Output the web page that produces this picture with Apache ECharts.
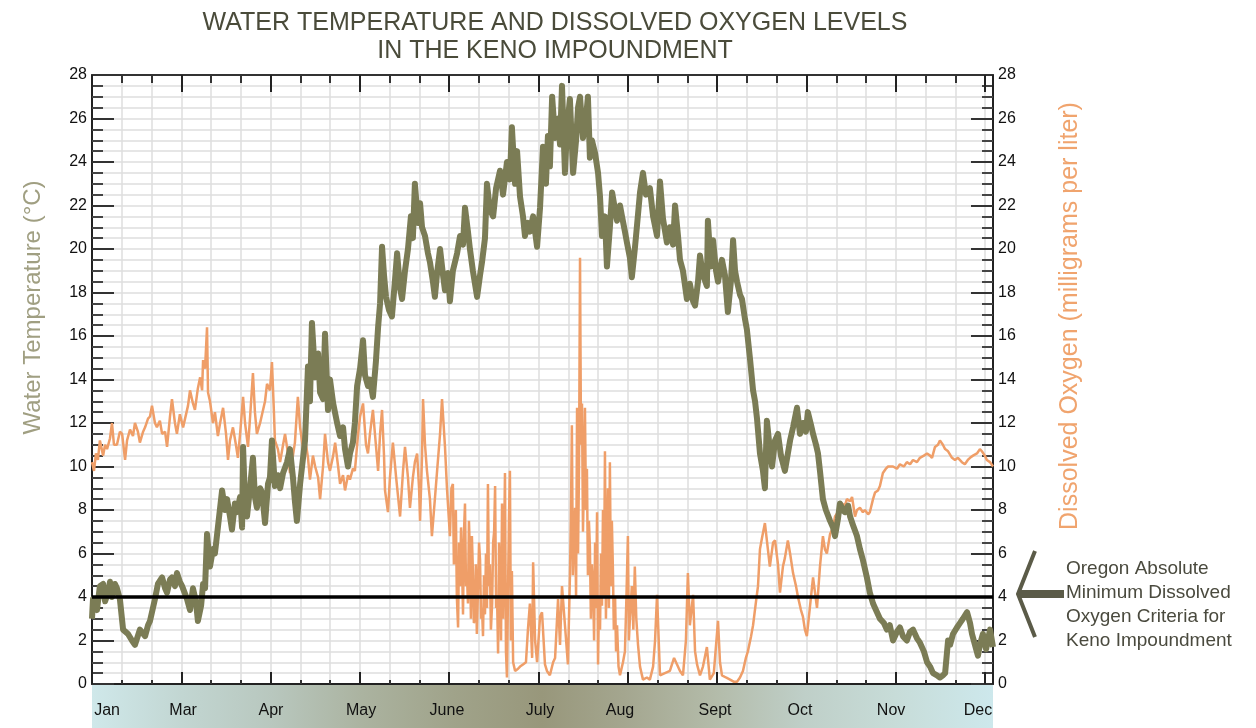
<!DOCTYPE html>
<html>
<head>
<meta charset="utf-8">
<title>Keno Impoundment</title>
<script src="https://cdn.jsdelivr.net/npm/echarts@6.0.0/dist/echarts.min.js"></script>
<style>
  html, body { margin: 0; padding: 0; background: #fff; }
  #main { width: 1256px; height: 728px; }
</style>
</head>
<body>
<div id="main"></div>
<script>
// x = day of the record (0 = start of Jan, 365 = end of Dec)
var monthNames = ['Jan', 'Mar', 'Apr', 'May', 'June', 'July', 'Aug', 'Sept', 'Oct', 'Nov', 'Dec'];
var monthDays = [6.1, 36.9, 72.5, 109.0, 143.8, 181.5, 213.9, 252.4, 286.8, 323.7, 358.9];

// water temperature, [day, deg C]
var waterTemp = [
  [0,3.0],[0.4,3.9],[2.0,3.4],[3.2,4.5],[4.5,4.6],[5.3,3.8],[6.5,4.2],[7.3,4.7],[8.1,4.0],[9.3,4.6],
  [10.1,4.4],[11.3,3.9],[12.6,2.5],[14.6,2.3],[16.2,2.0],[17.4,1.8],[19.4,2.5],[21.5,2.2],[22.7,2.7],[23.5,2.9],
  [25.5,3.9],[26.7,4.6],[28.4,4.9],[29.6,4.4],[30.4,4.2],[31.6,4.8],[32.4,4.9],[33.6,4.5],[34.4,5.1],[35.6,4.7],
  [36.5,4.5],[38.5,3.9],[39.7,3.4],[40.9,4.4],[42.1,3.8],[42.9,2.9],[44.2,3.6],[45.0,4.6],[45.8,4.4],[46.6,6.9],
  [47.8,5.4],[49.0,6.2],[49.8,6.0],[51.0,7.2],[52.7,8.9],[53.9,8.0],[54.7,8.5],[55.9,7.7],[56.7,7.1],[57.9,8.3],
  [58.7,7.9],[60.0,8.6],[60.8,7.2],[61.2,10.9],[62.0,8.3],[62.8,7.7],[64.0,9.0],[65.2,10.4],[66.0,8.6],[66.8,8.1],
  [68.1,9.0],[68.9,8.8],[70.1,7.4],[71.3,9.2],[72.1,9.5],[72.9,11.2],[74.1,9.1],[75.3,9.6],[76.2,9.0],[77.4,9.7],
  [79.0,10.2],[80.2,10.8],[81.4,9.5],[82.2,8.4],[83.0,7.5],[84.3,9.2],[85.1,10.0],[86.3,11.2],[87.5,14.6],[88.3,13.0],
  [89.1,16.6],[90.4,14.1],[91.6,15.2],[92.4,13.4],[93.6,13.1],[94.4,16.1],[95.6,12.6],[96.4,14.0],[97.7,12.9],[99.3,12.0],
  [100.5,11.4],[101.7,11.8],[102.5,10.8],[103.7,10.0],[104.5,10.6],[105.7,11.1],[106.5,12.0],[107.4,13.7],[108.6,14.5],[109.8,15.8],
  [110.6,14.2],[111.8,13.7],[112.6,14.0],[113.8,13.2],[115.0,14.8],[115.9,16.4],[116.7,17.5],[117.5,20.1],[118.3,18.8],[119.1,17.8],
  [120.3,17.2],[121.5,16.9],[122.7,18.5],[123.6,19.8],[124.8,18.2],[125.6,17.7],[126.8,19.0],[128.0,20.0],[129.2,21.5],[130.0,20.5],
  [130.8,23.0],[132.1,21.2],[132.9,22.1],[133.7,21.0],[134.9,20.6],[136.1,19.8],[136.9,19.4],[138.1,18.5],[138.9,17.8],[139.8,18.9],
  [141.0,20.0],[142.2,18.8],[143.0,18.1],[144.2,18.9],[145.0,17.6],[146.2,19.0],[147.9,19.8],[149.1,20.6],[150.3,20.2],[151.1,21.9],
  [152.3,20.8],[153.1,20.0],[154.3,19.0],[156.0,17.8],[157.2,18.8],[158.0,19.4],[159.2,20.5],[160.0,23.0],[161.2,21.8],[162.5,21.5],
  [163.7,22.8],[165.3,23.6],[166.5,22.5],[168.1,24.0],[169.3,23.2],[170.1,25.6],[171.4,23.0],[172.2,24.5],[173.4,22.4],[174.6,21.5],
  [175.4,20.6],[176.6,21.2],[177.4,20.8],[178.7,21.5],[180.3,20.1],[181.5,21.9],[182.7,24.7],[183.9,23.0],[184.7,25.2],[185.5,23.8],
  [186.4,27.0],[187.6,25.1],[188.8,26.0],[189.6,24.8],[190.4,27.5],[191.6,23.5],[192.4,25.5],[193.6,26.9],[194.9,23.5],[196.1,25.0],
  [196.9,26.5],[197.7,27.0],[198.9,25.1],[200.1,26.0],[200.9,27.0],[201.7,24.2],[202.5,25.0],[203.8,24.4],[205.0,23.5],[205.8,22.4],
  [206.6,20.6],[207.8,21.5],[208.6,19.2],[209.8,21.0],[210.7,22.6],[211.9,21.8],[212.7,21.3],[213.9,22.0],[214.7,21.5],[215.9,20.8],
  [216.7,20.3],[217.9,19.6],[218.7,18.7],[219.9,20.0],[220.8,21.1],[222.0,22.6],[223.2,23.5],[224.4,22.5],[226.0,22.8],[227.3,21.5],
  [228.9,20.6],[230.1,23.1],[231.3,21.4],[232.9,20.3],[234.1,21.0],[235.4,20.2],[236.2,22.0],[237.4,20.6],[238.2,19.5],[239.4,19.0],
  [241.0,17.7],[242.2,18.4],[243.5,17.6],[244.3,17.4],[245.5,18.5],[246.3,19.7],[247.5,18.8],[249.1,18.3],[249.5,21.3],[250.7,19.2],
  [251.6,20.4],[252.8,19.0],[253.6,18.5],[255.2,19.5],[256.4,18.8],[257.6,17.1],[258.9,18.6],[259.7,20.4],[260.5,19.0],[261.3,18.5],
  [262.5,17.9],[263.3,17.7],[264.5,16.8],[265.3,16.3],[266.6,14.9],[267.8,13.5],[268.6,13.0],[269.4,12.2],[270.6,10.6],[271.8,9.8],
  [272.6,9.0],[273.4,12.1],[274.6,10.8],[275.5,10.0],[276.7,11.2],[277.9,11.5],[279.1,10.5],[280.7,9.8],[281.9,10.6],[282.8,11.2],
  [284.0,11.8],[285.6,12.7],[286.8,11.5],[288.0,12.0],[289.2,11.6],[290.0,12.5],[291.3,11.9],[292.1,11.5],[293.3,11.0],[294.1,10.6],
  [294.9,9.8],[296.1,8.5],[297.3,8.0],[299.0,7.5],[300.2,7.2],[301.0,6.8],[302.2,7.6],[303.0,8.3],[304.2,8.0],[305.0,7.9],
  [306.3,8.2],[307.1,7.7],[308.3,7.3],[309.9,6.8],[311.1,6.2],[312.3,5.7],[313.9,4.9],[315.1,4.2],[316.4,3.7],[318.0,3.3],
  [319.2,3.0],[320.8,2.8],[322.0,2.5],[323.2,2.7],[324.5,2.0],[326.1,2.4],[327.3,2.6],[328.5,2.2],[330.1,2.0],[331.4,2.4],
  [332.6,2.5],[334.2,2.1],[335.4,1.9],[337.0,1.5],[338.3,1.0],[339.5,0.8],[340.7,0.5],[342.3,0.4],[343.5,0.3],[344.7,0.4],
  [345.6,0.5],[346.8,2.0],[347.6,1.8],[348.8,2.3],[350.4,2.6],[351.6,2.8],[352.8,3.0],[354.5,3.3],[355.7,2.8],[356.5,2.3],
  [357.7,1.8],[358.9,1.3],[359.7,1.8],[360.9,2.3],[362.2,1.6],[363.8,2.5],[365.0,1.7]
];

// dissolved oxygen, [day, mg/L]
var dissolvedOxygen = [
  [0,10.2],[0.8,9.8],[1.6,10.6],[2.4,10.3],[3.2,11.2],[4.5,10.5],[5.3,11.0],[6.1,10.8],[7.3,11.3],[8.1,12.0],
  [8.9,11.0],[10.1,11.0],[11.3,11.6],[12.2,11.5],[13.4,10.3],[14.2,11.2],[15.4,11.7],[16.6,11.4],[17.4,12.0],[18.6,11.6],
  [19.4,11.1],[20.7,11.6],[21.5,11.8],[22.7,12.2],[23.5,12.3],[24.3,12.8],[25.5,12.0],[26.3,11.8],[27.5,12.1],[28.4,11.5],
  [29.6,11.6],[30.4,10.9],[31.6,12.3],[32.4,13.1],[33.6,12.0],[34.4,11.5],[35.6,12.4],[36.9,11.8],[37.7,12.2],[38.9,12.8],
  [39.7,13.5],[40.9,12.9],[41.7,12.6],[42.9,13.6],[43.8,14.1],[44.6,13.5],[45.0,14.9],[45.8,14.5],[46.6,16.4],[47.0,13.4],
  [47.8,13.0],[49.0,12.0],[49.8,12.5],[51.0,11.4],[51.9,12.0],[53.1,12.7],[54.3,11.5],[55.1,10.3],[55.9,11.2],[57.1,11.8],
  [58.3,11.0],[59.1,10.4],[60.0,11.5],[61.2,13.2],[62.0,12.0],[63.2,10.9],[64.0,12.2],[65.2,14.3],[66.0,12.5],[66.8,11.5],
  [68.1,12.0],[68.9,12.4],[70.1,13.0],[70.9,13.8],[72.1,13.5],[72.9,14.8],[73.7,12.5],[74.1,11.2],[75.3,10.8],[76.2,10.2],
  [77.4,11.0],[78.2,11.5],[79.4,10.6],[80.2,9.7],[81.4,10.5],[82.2,11.1],[83.4,13.2],[84.3,11.8],[85.5,10.8],[86.3,11.3],
  [87.5,10.4],[88.3,9.4],[89.5,10.5],[90.4,10.0],[91.6,9.5],[92.4,8.5],[93.6,10.0],[94.4,11.5],[95.6,10.2],[96.4,9.8],
  [97.7,10.5],[98.5,11.1],[99.7,10.0],[100.5,9.2],[101.7,9.6],[102.5,8.9],[103.7,9.6],[104.5,9.4],[105.7,9.9],[106.5,9.8],
  [107.8,11.5],[108.6,12.3],[109.8,12.9],[111.0,11.0],[111.8,10.6],[112.6,11.5],[113.8,12.6],[115.0,11.0],[115.9,9.8],[116.7,11.5],
  [117.5,12.6],[118.3,10.5],[118.7,8.9],[119.9,7.9],[120.7,9.5],[121.9,11.1],[123.2,9.5],[124.0,8.6],[124.8,7.7],[126.0,9.8],
  [126.8,10.9],[128.0,9.5],[128.8,8.1],[130.0,9.5],[130.8,10.2],[131.7,10.6],[132.5,9.0],[132.9,7.5],[133.7,10.5],[134.1,13.1],
  [134.9,11.0],[135.7,9.8],[136.9,8.5],[137.7,6.8],[138.9,8.5],[139.8,9.8],[141.0,11.5],[141.8,13.1],[143.0,10.9],[143.8,9.0],
  [145.0,6.8],[145.6,9.0],[146.2,9.2],[146.6,5.5],[147.0,6.0],[147.4,8.0],[147.8,4.0],[148.3,2.6],[148.7,6.5],[149.1,4.5],
  [149.5,7.2],[149.9,5.6],[150.3,3.2],[150.7,7.0],[151.1,8.3],[151.5,4.5],[151.9,5.0],[152.3,3.7],[152.7,7.5],[153.1,6.0],
  [153.5,3.0],[153.9,6.8],[154.3,5.2],[154.7,2.8],[155.1,3.0],[155.5,5.5],[155.9,2.3],[156.4,4.5],[156.8,6.5],[157.2,5.7],
  [157.6,3.0],[158.0,3.5],[158.4,2.2],[158.8,5.0],[159.2,3.2],[159.6,6.0],[160.0,3.5],[160.4,9.2],[160.8,4.5],[161.2,5.5],
  [161.6,2.5],[162.1,3.7],[162.5,6.5],[162.9,7.0],[163.3,9.1],[163.7,3.5],[164.1,4.0],[164.5,1.4],[164.9,6.5],[165.3,5.0],
  [165.7,2.0],[166.1,8.3],[166.5,3.0],[166.9,6.0],[167.3,9.7],[167.7,1.5],[168.1,0.3],[168.5,4.0],[168.9,7.5],[169.3,9.8],
  [169.7,2.0],[170.1,5.2],[170.6,1.0],[171.4,0.6],[172.6,0.7],[173.4,0.8],[174.6,0.9],[175.8,1.0],[176.6,2.5],[177.4,3.7],
  [178.3,1.2],[178.7,5.6],[179.5,2.0],[180.3,1.0],[181.5,3.1],[182.3,3.3],[183.5,0.9],[184.3,0.6],[185.5,0.4],[186.8,1.0],
  [187.6,1.2],[188.8,3.9],[189.6,1.8],[190.4,4.5],[191.6,2.7],[192.8,0.9],[193.6,4.9],[194.0,7.5],[194.4,11.9],[194.8,5.0],
  [195.2,6.5],[195.7,8.1],[196.1,4.0],[196.5,12.7],[196.9,6.0],[197.3,10.0],[197.7,19.6],[198.1,11.0],[198.5,12.9],[198.9,7.0],
  [199.3,9.5],[199.7,12.7],[200.1,8.0],[200.5,9.9],[200.9,5.0],[201.3,7.5],[201.7,6.3],[202.1,3.0],[202.5,5.5],[203.0,4.5],
  [203.4,2.0],[203.8,6.5],[204.2,3.5],[204.6,7.9],[205.0,0.9],[205.4,4.0],[205.8,2.5],[206.2,6.0],[206.6,3.6],[207.0,8.0],
  [207.4,4.0],[207.8,10.7],[208.2,3.0],[208.6,6.3],[209.0,9.0],[209.4,3.5],[209.8,10.2],[210.2,4.5],[210.6,7.5],[211.0,5.4],
  [211.4,2.5],[211.9,4.0],[212.3,1.5],[212.7,2.7],[213.3,0.8],[213.9,0.4],[215.1,1.0],[215.9,1.5],[216.5,4.0],[217.1,6.8],
  [217.5,2.0],[217.9,3.0],[218.7,4.5],[219.3,2.5],[219.9,5.4],[220.5,3.0],[221.2,1.8],[222.0,0.8],[223.2,0.2],[224.8,0.3],
  [226.0,0.2],[227.3,0.8],[228.1,2.0],[228.9,4.1],[230.1,0.4],[232.1,0.5],[234.1,0.6],[235.8,1.2],[237.0,0.9],[238.2,0.6],
  [239.4,0.4],[240.6,2.0],[241.4,5.1],[242.2,2.7],[243.5,4.1],[244.3,1.5],[245.1,0.9],[246.3,0.4],[247.5,0.8],[249.1,1.7],
  [250.3,0.2],[251.9,0.5],[253.6,2.9],[254.4,1.0],[255.2,0.4],[256.8,0.3],[258.5,0.2],[260.1,0.1],[261.3,0.1],[262.5,0.3],
  [263.7,0.6],[264.9,1.2],[265.7,1.5],[267.0,2.2],[267.8,2.7],[269.0,3.8],[269.8,4.5],[270.6,6.2],[271.4,6.7],[272.6,7.4],
  [273.8,6.2],[274.6,5.4],[275.9,6.5],[276.7,6.6],[277.9,5.5],[278.7,4.2],[279.9,5.4],[280.7,5.8],[281.9,6.6],[282.8,6.0],
  [284.0,5.1],[285.2,4.5],[286.0,4.0],[287.2,3.4],[288.0,3.1],[288.8,2.5],[289.6,2.2],[290.8,3.5],[292.1,4.9],[292.9,4.2],
  [293.7,3.5],[294.9,5.4],[296.1,6.8],[296.9,6.2],[297.7,6.0],[299.0,6.9],[300.2,7.2],[301.0,7.7],[302.2,7.9],[303.8,8.3],
  [305.0,8.2],[305.8,8.5],[307.1,8.4],[307.9,8.6],[309.1,7.7],[309.9,8.0],[311.1,8.1],[312.3,7.9],[313.1,8.0],[314.4,7.8],
  [315.1,7.9],[316.4,8.5],[317.2,8.8],[318.4,8.9],[319.2,9.1],[320.4,9.7],[321.6,9.9],[322.5,10.0],[324.5,10.0],[326.1,9.9],
  [327.3,10.1],[328.9,10.0],[330.1,10.2],[331.4,10.1],[332.6,10.3],[334.2,10.2],[335.4,10.4],[337.0,10.5],[338.3,10.6],[339.5,10.5],
  [340.3,10.4],[341.5,10.9],[342.7,11.0],[343.5,11.2],[344.7,11.0],[345.6,10.8],[346.8,10.7],[348.4,10.4],[349.6,10.3],[350.8,10.4],
  [352.4,10.2],[353.6,10.1],[354.8,10.3],[355.7,10.4],[356.9,10.5],[358.5,10.6],[359.7,10.8],[360.5,10.7],[361.7,10.5],[362.5,10.3],
  [363.8,10.2],[365.0,10.0]
];

var oxygenCriterion = 4; // Oregon absolute minimum, mg/L

var gridLine = { color: '#dedede', width: 1.5 };
var font = 'Liberation Sans, Arial, sans-serif';

var myChart = echarts.init(document.getElementById('main'));

function monthLabel(v) {
  var best = 0;
  for (var i = 1; i < monthDays.length; i++) {
    if (Math.abs(monthDays[i] - v) < Math.abs(monthDays[best] - v)) best = i;
  }
  return monthNames[best];
}

var option = {
  animation: false,
  backgroundColor: '#fff',
  textStyle: { fontFamily: font },
  title: {
    text: 'WATER TEMPERATURE AND DISSOLVED OXYGEN LEVELS\nIN THE KENO IMPOUNDMENT',
    left: 550,
    top: 4,
    textAlign: 'center',
    textStyle: { fontSize: 25, fontWeight: 'normal', color: '#4a4b3a', lineHeight: 28, fontFamily: font }
  },
  grid: { left: 92, right: 263, top: 75, bottom: 44, containLabel: false, outerBoundsMode: 'none' },
  xAxis: [{
    type: 'value', min: 0, max: 365, interval: 36.18, position: 'bottom',
    axisLine: { show: true, onZero: false, lineStyle: { color: '#222', width: 2 } },
    axisTick: { show: true, inside: true, length: 12, lineStyle: { color: '#222', width: 2 } },
    minorTick: { show: true, splitNumber: 3, length: 4, lineStyle: { color: '#333', width: 2 } },
    splitLine: { show: true, lineStyle: gridLine },
    minorSplitLine: { show: true, lineStyle: gridLine },
    axisLabel: {
      customValues: monthDays, formatter: monthLabel, margin: 19,
      fontSize: 16, color: '#111', fontFamily: font
    }
  }, {
    type: 'value', min: 0, max: 365, interval: 36.18, position: 'top',
    axisLine: { show: true, onZero: false, lineStyle: { color: '#333', width: 2 } },
    axisTick: { show: true, inside: true, length: 17, lineStyle: { color: '#222', width: 2 } },
    minorTick: { show: true, splitNumber: 3, length: 8, lineStyle: { color: '#333', width: 2 } },
    splitLine: { show: false },
    axisLabel: { show: false }
  }],
  yAxis: [{
    type: 'value', min: 0, max: 28, interval: 2, position: 'left',
    name: 'Water Temperature (°C)', nameLocation: 'middle', nameRotate: 90, nameGap: 47,
    nameTextStyle: { fontSize: 24, color: '#a09f82', fontFamily: font, padding: [0, 0, 0, 144] },
    axisLine: { show: true, onZero: false, lineStyle: { color: '#222', width: 2 } },
    axisTick: { show: true, inside: true, length: 22, lineStyle: { color: '#333', width: 2 } },
    minorTick: { show: true, splitNumber: 4, length: 11, lineStyle: { color: '#444', width: 2 } },
    splitLine: { show: true, lineStyle: gridLine },
    minorSplitLine: { show: true, lineStyle: gridLine },
    axisLabel: { fontSize: 16, color: '#111', margin: 5, fontFamily: font }
  }, {
    type: 'value', min: 0, max: 28, interval: 2, position: 'right',
    name: 'Dissolved Oxygen (milligrams per liter)', nameLocation: 'middle', nameRotate: 90, nameGap: 65,
    nameTextStyle: { fontSize: 25, color: '#f0a46e', fontFamily: font, padding: [0, 0, 0, 127] },
    axisLine: { show: true, onZero: false, lineStyle: { color: '#222', width: 2 } },
    axisTick: { show: true, inside: true, length: 22, lineStyle: { color: '#333', width: 2 } },
    minorTick: { show: true, splitNumber: 4, length: 11, lineStyle: { color: '#444', width: 2 } },
    splitLine: { show: false },
    axisLabel: { fontSize: 16, color: '#111', margin: 5, fontFamily: font }
  }],
  series: [{
    name: 'Dissolved oxygen',
    type: 'line',
    xAxisIndex: 0,
    yAxisIndex: 1,
    data: dissolvedOxygen,
    symbol: 'none',
    lineStyle: { color: '#ef9e68', width: 2.5 },
    z: 2
  }, {
    name: 'Water temperature',
    type: 'line',
    xAxisIndex: 0,
    yAxisIndex: 0,
    data: waterTemp,
    symbol: 'none',
    lineStyle: { color: '#7b7c55', width: 6, join: 'round' },
    z: 3,
    markLine: {
      silent: true,
      symbol: 'none',
      label: { show: false },
      lineStyle: { color: '#000', width: 3.5, type: 'solid' },
      data: [{ yAxis: oxygenCriterion }]
    }
  }],
  graphic: [{
    // month band under the axis
    type: 'rect', z: -10,
    shape: { x: 92, y: 685, width: 901, height: 43 },
    style: {
      fill: new echarts.graphic.LinearGradient(0, 0, 1, 0, [
        { offset: 0, color: '#cfe8ea' }, { offset: 0.1, color: '#c2d6d2' },
        { offset: 0.2, color: '#b8c7be' }, { offset: 0.3, color: '#abb3a0' },
        { offset: 0.4, color: '#a0a38a' }, { offset: 0.5, color: '#98977b' },
        { offset: 0.59, color: '#a4a68f' }, { offset: 0.69, color: '#b3bba9' },
        { offset: 0.79, color: '#bfcfc8' }, { offset: 0.89, color: '#c7dcd8' },
        { offset: 1, color: '#cde8ec' }
      ])
    }
  }, {
    type: 'polyline', z: 20,
    shape: { points: [[1035, 551], [1018, 594], [1035, 637]] },
    style: { stroke: '#5b5b48', lineWidth: 4, fill: null }
  }, {
    type: 'line', z: 20,
    shape: { x1: 1018, y1: 594, x2: 1064, y2: 594 },
    style: { stroke: '#5b5b48', lineWidth: 8 }
  }, {
    type: 'text', z: 20, left: 1066, top: 557,
    style: {
      text: 'Oregon Absolute\nMinimum Dissolved\nOxygen Criteria for\nKeno Impoundment',
      fontSize: 19, lineHeight: 24, fill: '#4a4a3e', fontFamily: font
    }
  }]
};

myChart.setOption(option);
</script>
</body>
</html>
